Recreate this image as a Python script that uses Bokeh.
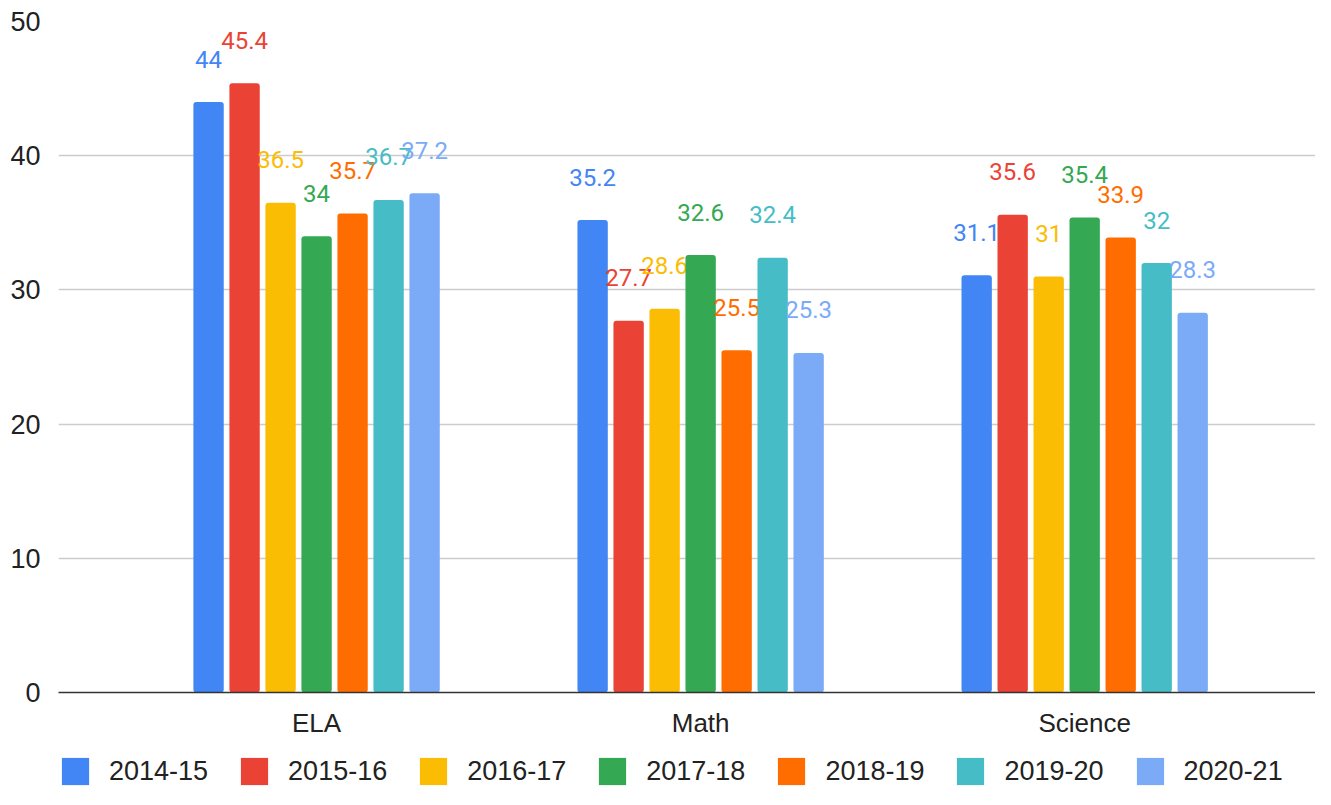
from bokeh.plotting import figure
from bokeh.models import ColumnDataSource, Legend, LegendItem, FixedTicker
from bokeh.layouts import column
from bokeh.core.properties import value
from bokeh.embed import file_html
from bokeh.resources import INLINE

subjects = ["ELA", "Math", "Science"]
years = ["2014-15", "2015-16", "2016-17", "2017-18", "2018-19", "2019-20", "2020-21"]
y2014_15 = [44, 35.2, 31.1]
y2015_16 = [45.4, 27.7, 35.6]
y2016_17 = [36.5, 28.6, 31]
y2017_18 = [34, 32.6, 35.4]
y2018_19 = [35.7, 25.5, 33.9]
y2019_20 = [36.7, 32.4, 32]
y2020_21 = [37.2, 25.3, 28.3]
series = [y2014_15, y2015_16, y2016_17, y2017_18, y2018_19, y2019_20, y2020_21]
colors = ["#4285f4", "#ea4335", "#fbbc04", "#34a853", "#ff6d01", "#46bdc6", "#7baaf7"]
y_ticks = [0, 10, 20, 30, 40, 50]

p = figure(frame_width=1257, frame_height=671, output_backend="svg", toolbar_location=None,
           x_range=(-0.672, 2.601), y_range=(0, 50),
           min_border_left=58, min_border_right=0, min_border_top=21, min_border_bottom=60)
p.outline_line_color = None
p.background_fill_color = "white"
p.border_fill_color = "white"

pitch = 0.09375
width = 0.079
for i, (name, vals, c) in enumerate(zip(years, series, colors)):
    xs = [j + (i - 3) * pitch for j in range(len(subjects))]
    src = ColumnDataSource(dict(x=xs, top=vals, lab=[("%g" % v) for v in vals]))
    p.vbar(x="x", top="top", width=width, bottom=0, source=src, fill_color=c,
           line_color=None, border_radius=3)
    p.text(x="x", y="top", text="lab", source=src, text_color=c,
           text_font=value("Roboto"), text_font_size="24px", text_align="center",
           text_baseline="alphabetic", y_offset=-43)

p.xgrid.visible = False
p.ygrid.grid_line_color = "#cccccc"
p.ygrid.grid_line_width = 1.5
p.yaxis.ticker = FixedTicker(ticks=y_ticks)
p.yaxis.axis_line_color = None
p.yaxis.major_tick_line_color = None
p.yaxis.minor_tick_line_color = None
p.yaxis.major_label_standoff = 12
p.yaxis.major_label_text_font = "Liberation Sans"
p.yaxis.major_label_text_font_size = "27px"
p.yaxis.major_label_text_color = "#222222"

p.xaxis.ticker = FixedTicker(ticks=list(range(len(subjects))))
p.xaxis.major_label_overrides = {i: s for i, s in enumerate(subjects)}
p.xaxis.axis_line_color = "#333333"
p.xaxis.axis_line_width = 1.5
p.xaxis.major_tick_line_color = None
p.xaxis.minor_tick_line_color = None
p.xaxis.major_label_standoff = 9
p.xaxis.major_label_text_font = "Liberation Sans"
p.xaxis.major_label_text_font_size = "26px"
p.xaxis.major_label_text_color = "#222222"

# legend strip (separate figure so the legend is not clipped by the main frame)
lg = figure(width=1315, height=37, output_backend="svg", toolbar_location=None,
            x_range=(0, 1), y_range=(0, 1),
            min_border_left=0, min_border_right=0, min_border_top=0, min_border_bottom=0)
lg.outline_line_color = None
lg.axis.visible = False
lg.grid.visible = False
items = []
for name, c in zip(years, colors):
    # zero-height placeholder bar: only provides the legend swatch style
    r = lg.vbar(x=[0], top=[0], bottom=[0], width=0.0, fill_color=c, line_color=None,
                border_radius=3)
    items.append(LegendItem(label=name, renderers=[r]))
legend = Legend(items=items, orientation="horizontal", location=(0, 1),
                glyph_width=34, glyph_height=34, label_standoff=17, spacing=29,
                padding=0, margin=0, border_line_color=None, background_fill_alpha=0,
                label_text_font="Liberation Sans", label_text_font_size="27px",
                label_text_color="#222222")
lg.add_layout(legend, "center")

layout = column(p, lg, spacing=0)
open("out.html", "w").write(file_html(layout, INLINE))
